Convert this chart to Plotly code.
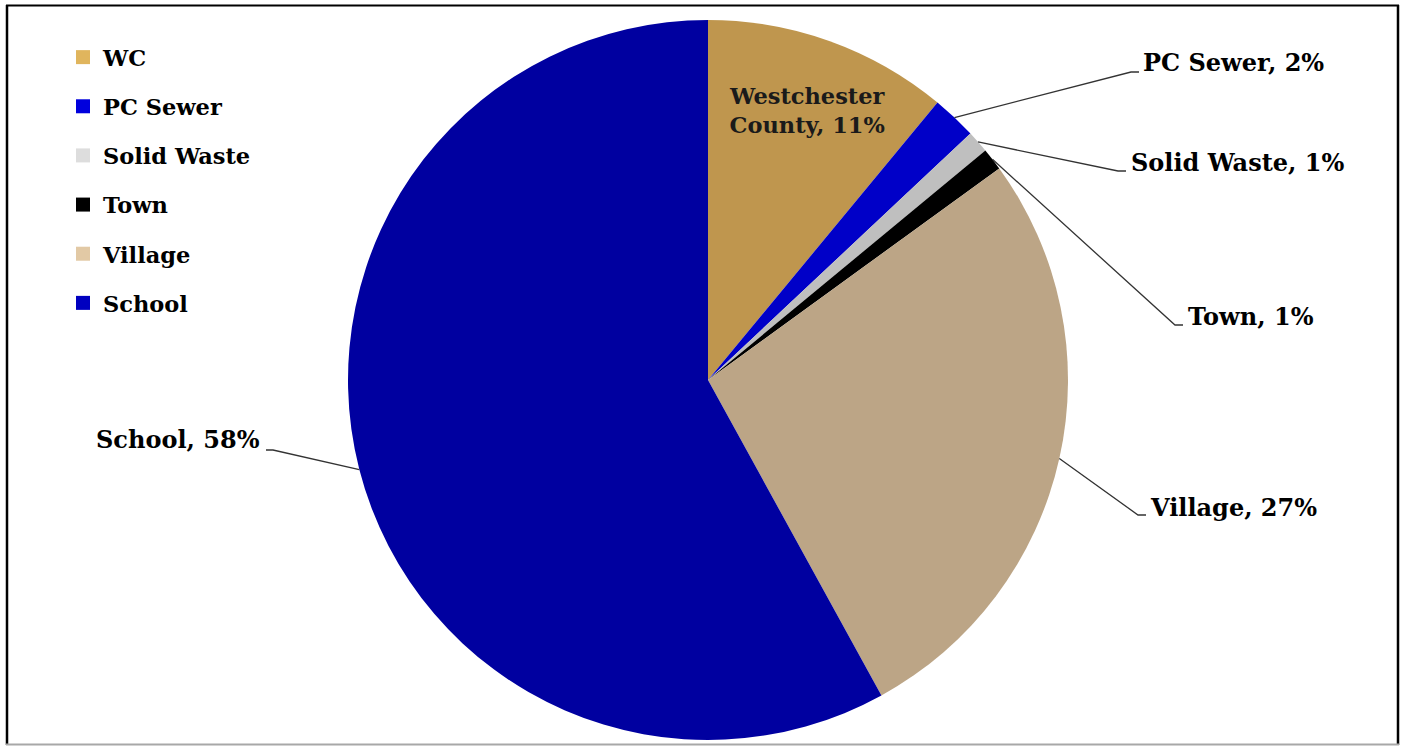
import math
import plotly.graph_objects as go

W, H = 1405, 746

# ---- data ----
labels = ["WC", "PC Sewer", "Solid Waste", "Town", "Village", "School"]
values = [11, 2, 1, 1, 27, 58]
label_names = ["Westchester County", "PC Sewer", "Solid Waste", "Town", "Village", "School"]
slice_colors = ["#BF964E", "#0000C8", "#BFBFBF", "#000000", "#BCA586", "#0000A0"]
legend_colors = ["#E0B55D", "#0000DD", "#DDDDDD", "#000000", "#E2C9A5", "#0000C0"]

# ---- layout constants (pixels) ----
CX, CY, R = 708, 380, 360
FONT = "DejaVu Serif"

def px(x):
    return x / W

def py(y):
    return 1 - y / H

fig = go.Figure()

fig.add_trace(go.Pie(
    labels=labels,
    values=values,
    sort=False,
    direction="clockwise",
    rotation=0,
    marker=dict(colors=slice_colors, line=dict(width=0)),
    textinfo="none",
    hoverinfo="label+percent",
    showlegend=False,
    domain=dict(x=[px(CX - R), px(CX + R)], y=[py(CY + R), py(CY - R)]),
))

# legend entries (squares) via empty traces
for lab, col in zip(labels, legend_colors):
    fig.add_trace(go.Scatter(
        x=[None], y=[None], mode="markers", name=lab, legendgroup=lab,
        marker=dict(symbol="square", size=14, color=col),
        showlegend=True, hoverinfo="skip",
    ))

# outside label placement: (elbow x, elbow y, end x, text x, text y, anchor)
label_pos = {
    "PC Sewer": (1131, 72, 1139, 1141, 62, "left"),
    "Solid Waste": (1118, 171, 1126, 1129, 162, "left"),
    "Town": (1175, 325, 1183, 1186, 316, "left"),
    "Village": (1138, 515, 1146, 1148, 507, "left"),
    "School": (273, 450, 266, 262, 440, "right"),
}

total = sum(values)
cum = 0
shapes = []
annotations = []
for lab, name, v in zip(labels, label_names, values):
    theta = 2 * math.pi * (cum + v / 2) / total
    cum += v
    text = f"{name}, {round(100 * v / total)}%"
    if lab in label_pos:
        ex, ey, ex2, tx, ty, anc = label_pos[lab]
        sx = CX + R * math.sin(theta)
        sy = CY - R * math.cos(theta)
        shapes.append(dict(
            type="path", xref="paper", yref="paper",
            path=f"M {px(sx)},{py(sy)} L {px(ex)},{py(ey)} L {px(ex2)},{py(ey)}",
            line=dict(color="#333333", width=1.3),
        ))
        annotations.append(dict(
            x=px(tx), y=py(ty), xref="paper", yref="paper", text=text,
            showarrow=False, xanchor=anc, yanchor="middle",
            font=dict(family=FONT, size=24, color="#000000", weight="bold"),
        ))
    else:
        # inside label for WC
        annotations.append(dict(
            x=px(807), y=py(111), xref="paper", yref="paper",
            text="Westchester<br>County, 11%",
            showarrow=False, xanchor="center", yanchor="middle",
            font=dict(family=FONT, size=22.5, color="#1A1A1A", weight="bold"),
        ))

# chart frame
shapes += [
    dict(type="line", xref="paper", yref="paper", x0=px(7), x1=px(7), y0=py(5), y1=py(745),
         line=dict(color="#000000", width=2.5)),
    dict(type="line", xref="paper", yref="paper", x0=px(6), x1=px(1399), y0=py(5.5), y1=py(5.5),
         line=dict(color="#000000", width=2)),
    dict(type="line", xref="paper", yref="paper", x0=px(1398), x1=px(1398), y0=py(5), y1=py(745),
         line=dict(color="#000000", width=2.5)),
    dict(type="line", xref="paper", yref="paper", x0=px(6), x1=px(1399), y0=py(744.5), y1=py(744.5),
         line=dict(color="#A8A8A8", width=2)),
]

fig.update_layout(
    width=W, height=H,
    margin=dict(l=0, r=0, t=0, b=0),
    paper_bgcolor="#FFFFFF",
    plot_bgcolor="rgba(0,0,0,0)",
    xaxis=dict(visible=False),
    yaxis=dict(visible=False),
    shapes=shapes,
    annotations=annotations,
    showlegend=True,
    legend=dict(
        x=px(63), y=py(36), xanchor="left", yanchor="top",
        font=dict(family=FONT, size=22.5, color="#000000", weight="bold"),
        bgcolor="rgba(0,0,0,0)", tracegroupgap=16.9,
        itemclick=False, itemdoubleclick=False,
    ),
)

fig.write_html("out.html")
